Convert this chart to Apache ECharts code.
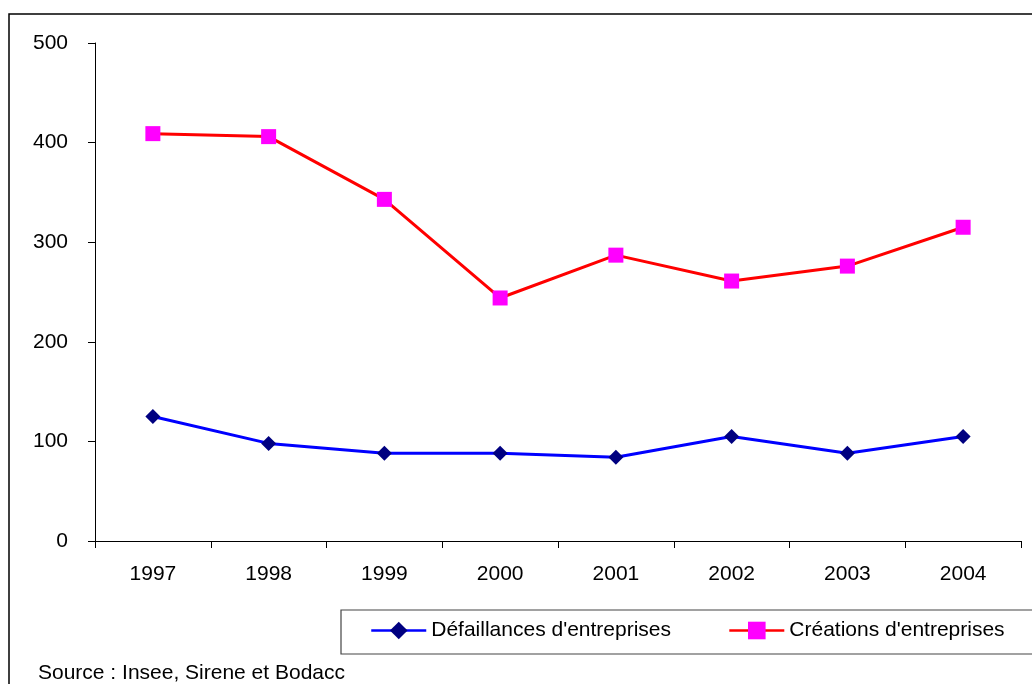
<!DOCTYPE html>
<html>
<head>
<meta charset="utf-8">
<script src="https://cdn.jsdelivr.net/npm/echarts@6/dist/echarts.min.js"></script>
<style>
html,body{margin:0;padding:0;background:#fff;}
#c{width:1032px;height:684px;}
</style>
</head>
<body>
<div id="c"></div>
<script>
const years = ['1997','1998','1999','2000','2001','2002','2003','2004'];
const defaillances = [125, 98, 88, 88, 84, 105, 88, 105];
const creations = [409, 406, 343, 244, 287, 261, 276, 315];
const yTicks = [0, 100, 200, 300, 400, 500];
const seriesNames = ["Défaillances d'entreprises", "Créations d'entreprises"];
const sourceText = 'Source : Insee, Sirene et Bodacc';

const FONT = '"Liberation Sans", Arial, sans-serif';
const chart = echarts.init(document.getElementById('c'), null, {renderer: 'canvas'});
chart.setOption({
  animation: false,
  backgroundColor: '#fff',
  textStyle: {fontFamily: FONT},
  grid: {left: 95, right: 11, top: 43, bottom: 143, containLabel: false},
  xAxis: {
    type: 'category',
    data: years,
    boundaryGap: true,
    axisLine: {lineStyle: {color: '#000', width: 1}},
    axisTick: {show: true, length: 7, lineStyle: {color: '#000'}},
    axisLabel: {color: '#000', fontSize: 21, fontFamily: FONT, margin: 23},
    splitLine: {show: false}
  },
  yAxis: {
    type: 'value',
    min: yTicks[0],
    max: yTicks[yTicks.length - 1],
    interval: 100,
    axisLine: {show: true, lineStyle: {color: '#000', width: 1}},
    axisTick: {show: true, length: 7, lineStyle: {color: '#000'}},
    axisLabel: {color: '#000', fontSize: 21, fontFamily: FONT, margin: 27},
    splitLine: {show: false}
  },
  legend: {
    left: 370,
    top: 620,
    itemWidth: 55,
    itemHeight: 22,
    itemGap: 57,
    padding: 0,
    lineStyle: {width: 2.5},
    textStyle: {color: '#000', fontSize: 21, fontFamily: FONT},
    data: seriesNames
  },
  graphic: [
    {type: 'rect', shape: {x: 9, y: 14, width: 1100, height: 800}, style: {fill: 'none', stroke: '#000', lineWidth: 1.5}, z: -10},
    {type: 'rect', shape: {x: 341, y: 610, width: 800, height: 44}, style: {fill: 'none', stroke: '#444', lineWidth: 1.2}, z: -10},
    {type: 'text', left: 38, top: 663, style: {text: sourceText, fill: '#000', font: '21px ' + FONT}}
  ],
  series: [
    {
      name: seriesNames[0],
      type: 'line',
      data: defaillances,
      symbol: 'diamond',
      symbolSize: 15,
      lineStyle: {color: '#0000FF', width: 3},
      itemStyle: {color: '#000080', borderWidth: 0}
    },
    {
      name: seriesNames[1],
      type: 'line',
      data: creations,
      symbol: 'rect',
      symbolSize: 15,
      lineStyle: {color: '#FF0000', width: 3},
      itemStyle: {color: '#FF00FF', borderWidth: 0}
    }
  ]
});
</script>
</body>
</html>
